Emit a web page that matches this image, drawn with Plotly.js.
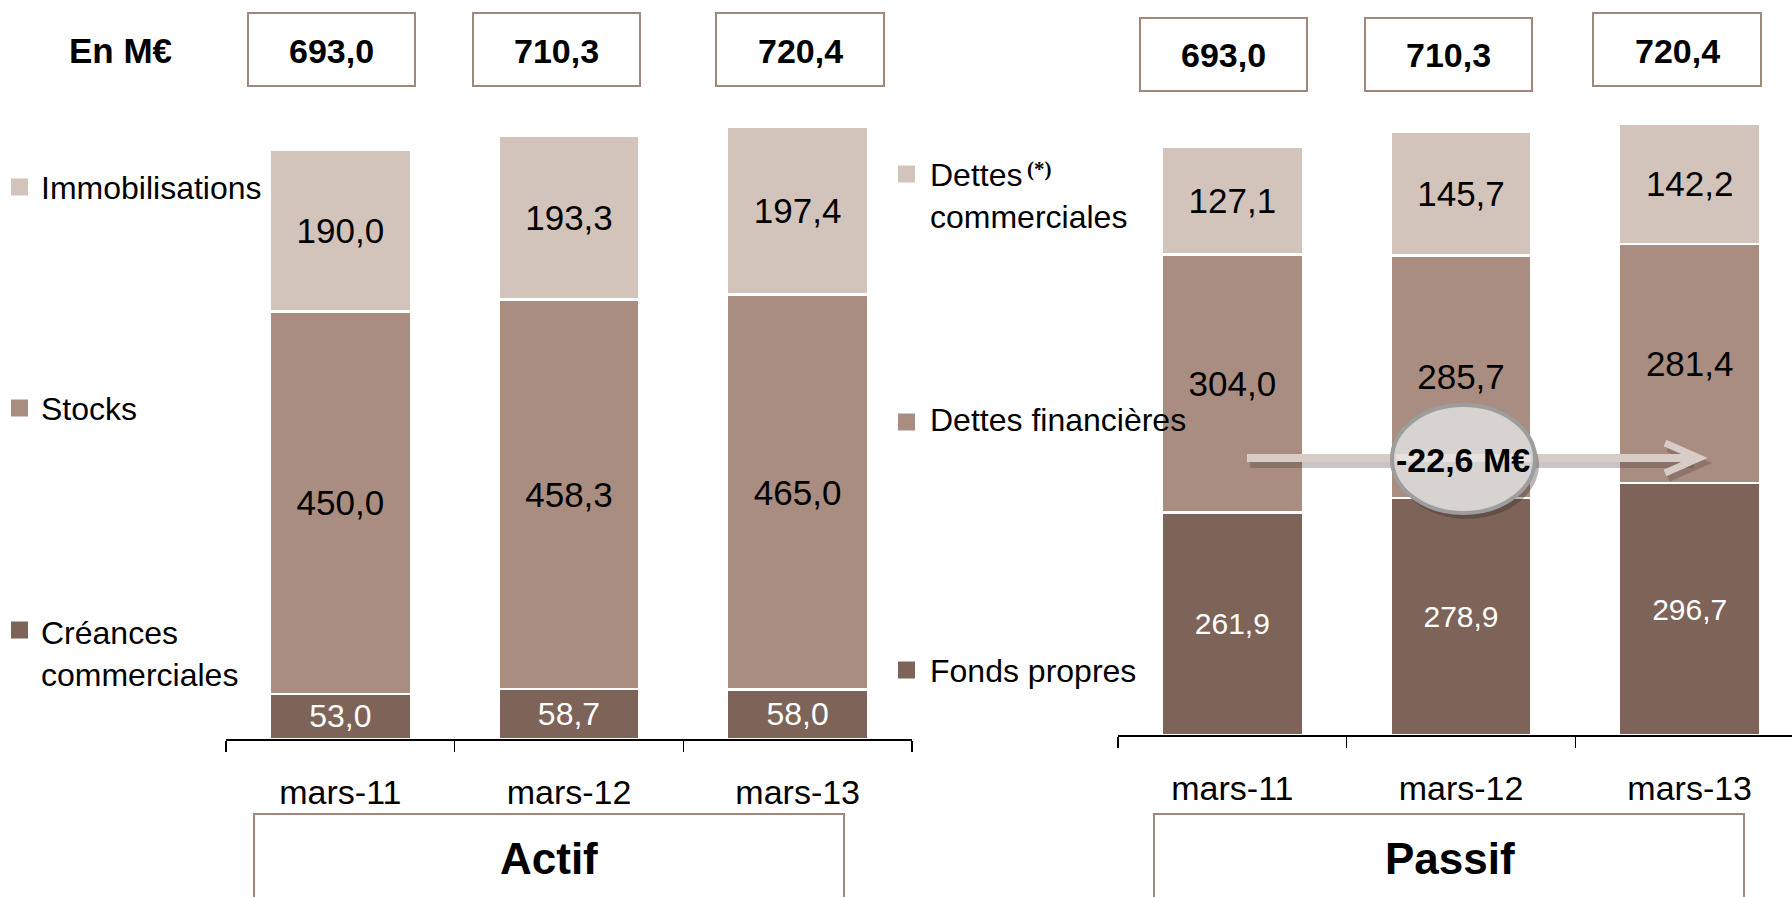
<!DOCTYPE html>
<html>
<head>
<meta charset="utf-8">
<script src="https://cdn.plot.ly/plotly-3.0.1.min.js"></script>
<style>html,body{margin:0;padding:0;background:#fff;}#chart{width:1792px;height:897px;}</style>
</head>
<body>
<div id="chart"></div>
<script>
// ---------- data ----------
const categories = ['mars-11', 'mars-12', 'mars-13'];
const creancesCommerciales = [53.0, 58.7, 58.0];
const stocks = [450.0, 458.3, 465.0];
const immobilisations = [190.0, 193.3, 197.4];
const fondsPropres = [261.9, 278.9, 296.7];
const dettesFinancieres = [304.0, 285.7, 281.4];
const dettesCommerciales = [127.1, 145.7, 142.2];
const totals = [693.0, 710.3, 720.4];
const actifNames = ['Créances<br>commerciales', 'Stocks', 'Immobilisations'];
const passifNames = ['Fonds propres', 'Dettes financières', 'Dettes<br>commerciales'];
const panelTitles = ['Actif', 'Passif'];
const unitLabel = 'En M€';
const variationLabel = '-22,6 M€';
const footnoteMark = '(*)';

// ---------- style ----------
const W = 1792, H = 897;
const FONT = '"Liberation Sans", Arial, sans-serif';
const cLight = '#d3c4bb', cMid = '#a88d80', cDark = '#7d6358';
const boxLine = '#9f887c';
const X = p => p / W;
const Y = p => 1 - p / H;
const fmt = v => v.toFixed(1).replace('.', ',');

function barTrace(y, color, txtColor, size, xa, ya) {
  return {
    type: 'bar', x: categories, y: y, xaxis: xa, yaxis: ya,
    marker: {color: color, line: {color: '#ffffff', width: 2.5}},
    texttemplate: '%{y:.1f}', textposition: 'inside', insidetextanchor: 'middle',
    constraintext: 'none', cliponaxis: false,
    textfont: {family: FONT, size: size, color: txtColor},
    hoverinfo: 'skip', showlegend: false
  };
}

const data = [
  barTrace(creancesCommerciales, cDark, '#ffffff', 32, 'x', 'y'),
  barTrace(stocks, cMid, '#000000', 35, 'x', 'y'),
  barTrace(immobilisations, cLight, '#000000', 35, 'x', 'y'),
  barTrace(fondsPropres, cDark, '#ffffff', 30, 'x2', 'y2'),
  barTrace(dettesFinancieres, cMid, '#000000', 35, 'x2', 'y2'),
  barTrace(dettesCommerciales, cLight, '#000000', 35, 'x2', 'y2')
];

const xCommon = {
  type: 'category', showgrid: false, zeroline: false,
  showline: true, linecolor: '#000000', linewidth: 1.5,
  ticks: 'outside', tickson: 'boundaries', ticklen: 11, tickwidth: 1.5, tickcolor: '#000000',
  tickfont: {family: FONT, size: 34, color: '#000000'},
  ticklabelstandoff: 23, fixedrange: true
};

const shapes = [];
const annotations = [];

function rect(x0, y0, x1, y1, color) {
  shapes.push({type: 'rect', xref: 'paper', yref: 'paper', x0: X(x0), x1: X(x1), y0: Y(y0), y1: Y(y1),
    line: {color: color, width: 2}, fillcolor: 'rgba(0,0,0,0)', layer: 'above'});
}
function sq(x0, yc, color) {
  shapes.push({type: 'rect', xref: 'paper', yref: 'paper', x0: X(x0), x1: X(x0 + 17), y0: Y(yc - 8.5), y1: Y(yc + 8.5),
    line: {width: 0}, fillcolor: color});
}
function txt(text, x, y, size, opts) {
  annotations.push(Object.assign({xref: 'paper', yref: 'paper', x: X(x), y: Y(y), text: text, showarrow: false,
    xanchor: 'center', yanchor: 'middle', font: {family: FONT, size: size, color: '#000000'}}, opts || {}));
}

// total boxes
const leftBoxes = [[248, 13, 415, 86], [473, 13, 640, 86], [716, 13, 884, 86]];
const rightBoxes = [[1140, 18, 1307, 91], [1365, 18, 1532, 91], [1593, 13, 1761, 86]];
[leftBoxes, rightBoxes].forEach(boxes => boxes.forEach((b, i) => {
  rect(b[0], b[1], b[2], b[3], boxLine);
  txt('<b>' + fmt(totals[i]) + '</b>', (b[0] + b[2]) / 2, (b[1] + b[3]) / 2 + 1, 34);
}));
txt('<b>' + unitLabel + '</b>', 120, 51, 35);

// legends (left)
sq(11, 187, cLight); txt(actifNames[2], 39, 188, 32, {xanchor: 'left'});
sq(11, 408, cMid); txt(actifNames[1], 39, 409, 32, {xanchor: 'left'});
sq(11, 630, cDark); txt(actifNames[0], 39, 654, 32, {xanchor: 'left', align: 'left'});
// legends (right)
sq(898, 174, cLight); txt(passifNames[2], 928, 196, 32, {xanchor: 'left', align: 'left'});
txt('<b>' + footnoteMark + '</b>', 1025, 169, 21, {xanchor: 'left', font: {family: '"Liberation Serif", "Times New Roman", serif', size: 21, color: '#000000'}});
sq(898, 422, cMid); txt(passifNames[1], 928, 420, 32, {xanchor: 'left'});
sq(898, 670, cDark); txt(passifNames[0], 928, 671, 32, {xanchor: 'left'});

// panel title boxes
rect(254, 814, 844, 905, boxLine);
rect(1154, 814, 1744, 905, boxLine);
txt('<b>' + panelTitles[0] + '</b>', 549, 858, 44);
txt('<b>' + panelTitles[1] + '</b>', 1450, 858, 44);

// variation arrow + bubble
const ay = 458;
shapes.push({type: 'line', xref: 'paper', yref: 'paper', x0: X(1250), x1: X(1694), y0: Y(ay + 5), y1: Y(ay + 5),
  line: {color: 'rgba(60,48,42,0.28)', width: 10}});
shapes.push({type: 'path', xref: 'paper', yref: 'paper',
  path: `M ${X(1668)} ${Y(ay - 10)} L ${X(1702)} ${Y(ay + 5)} L ${X(1668)} ${Y(ay + 20)}`,
  line: {color: 'rgba(60,48,42,0.25)', width: 8}});
shapes.push({type: 'line', xref: 'paper', yref: 'paper', x0: X(1247), x1: X(1694), y0: Y(ay), y1: Y(ay),
  line: {color: '#d8ccc6', width: 8}});
shapes.push({type: 'path', xref: 'paper', yref: 'paper',
  path: `M ${X(1665)} ${Y(ay - 15)} L ${X(1699)} ${Y(ay)} L ${X(1665)} ${Y(ay + 15)}`,
  line: {color: '#d8ccc6', width: 7}});
shapes.push({type: 'circle', xref: 'paper', yref: 'paper', x0: X(1395), x1: X(1539), y0: Y(410), y1: Y(519),
  fillcolor: 'rgba(55,45,40,0.35)', line: {width: 0}});
shapes.push({type: 'circle', xref: 'paper', yref: 'paper', x0: X(1392), x1: X(1535), y0: Y(405), y1: Y(513),
  fillcolor: '#d7d3d1', line: {color: '#9d9d9d', width: 4}});
shapes.push({type: 'line', xref: 'paper', yref: 'paper', x0: X(1396), x1: X(1531), y0: Y(ay), y1: Y(ay),
  line: {color: 'rgba(235,230,228,0.8)', width: 8}});
txt('<b>' + variationLabel + '</b>', 1463, 460, 34);

const layout = {
  width: W, height: H,
  margin: {l: 0, r: 0, t: 0, b: 0, pad: 0},
  paper_bgcolor: '#ffffff', plot_bgcolor: 'rgba(0,0,0,0)',
  barmode: 'stack', bargap: 0.383,
  separators: ', ',
  showlegend: false,
  font: {family: FONT, color: '#000000'},
  xaxis: Object.assign({}, xCommon, {domain: [X(226), X(912)], range: [-0.5, 2.5], anchor: 'y'}),
  xaxis2: Object.assign({}, xCommon, {domain: [X(1118), 1], range: [-0.5, 2.4475], anchor: 'y2'}),
  yaxis: {domain: [Y(739), 1], range: [0, 739 / 0.85], visible: false, fixedrange: true},
  yaxis2: {domain: [Y(735), 1], range: [0, 735 / 0.849], visible: false, fixedrange: true},
  shapes: shapes,
  annotations: annotations
};

Plotly.newPlot('chart', data, layout, {displayModeBar: false, staticPlot: true});
</script>
</body>
</html>
